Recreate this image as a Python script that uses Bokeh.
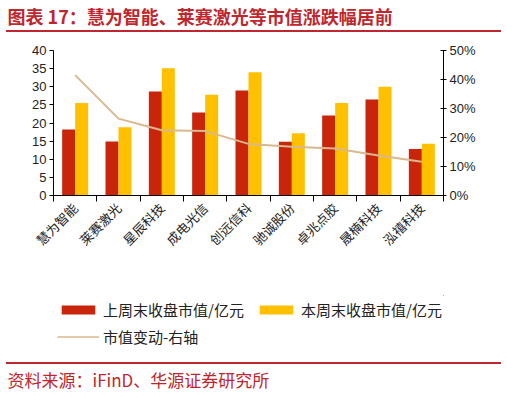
import math
from bokeh.plotting import figure
from bokeh.models import (ColumnDataSource, Range1d, LinearAxis, FixedTicker,
                          PrintfTickFormatter, Legend, LegendItem, Div)
from bokeh.transform import dodge
from bokeh.layouts import column
from bokeh.embed import file_html
from bokeh.resources import INLINE

# ---------------- data ----------------
title_text = "图表 17：慧为智能、莱赛激光等市值涨跌幅居前"
source_text = "资料来源：iFinD、华源证券研究所"
categories = ["慧为智能", "莱赛激光", "星辰科技", "成电光信", "创远信科",
              "驰诚股份", "卓兆点胶", "晟楠科技", "泓禧科技"]
last_week = [18.2, 14.9, 28.7, 22.9, 29.0, 14.8, 22.1, 26.5, 12.8]
this_week = [25.5, 18.8, 35.1, 27.8, 34.0, 17.2, 25.5, 30.0, 14.3]
change_pct = [41.5, 26.5, 22.5, 22.2, 17.8, 16.8, 16.2, 13.8, 11.6]
left_ticks = [0, 5, 10, 15, 20, 25, 30, 35, 40]
right_ticks = [0, 10, 20, 30, 40, 50]
legend_labels = ["上周末收盘市值/亿元", "本周末收盘市值/亿元", "市值变动-右轴"]

RED = "#C8250A"
YELLOW = "#FFC000"
TAN = "#D9B88F"
TITLE_RED = "#C0262D"
CJK = "Noto Sans CJK SC"
LAT = "Liberation Sans"
W = 503
FRAME_L, FRAME_R = 53, 443


def bare(height, top_pad=0):
    f = figure(width=W, height=height, output_backend="svg", toolbar_location=None,
               x_axis_location=None, y_axis_location=None, min_border=0,
               min_border_top=top_pad, margin=0)
    f.outline_line_color = None
    f.grid.visible = False
    return f


def text_strip(text, height, size, bold, top_pad):
    f = bare(height, top_pad)
    f.title.text = text
    f.title.align = "left"
    f.title.offset = -(FRAME_L - 7)
    f.title.standoff = 0
    f.title.text_font = CJK
    f.title.text_font_size = size
    f.title.text_font_style = "bold" if bold else "normal"
    f.title.text_color = TITLE_RED
    return f


def rule(thick):
    return Div(text="", width=495, height=thick, margin=(0, 0, 0, 6),
               styles={"background-color": TITLE_RED})


top = text_strip(title_text, 30, "18px", True, 2)
bot = text_strip(source_text, 30, "17px", False, 2)

# ---------------- main chart ----------------
idx = list(range(len(categories)))
src = ColumnDataSource(dict(idx=idx, last=last_week, this=this_week, chg=change_pct))

p = figure(width=W, height=263, x_range=Range1d(-0.5, len(categories) - 0.5),
           y_range=Range1d(0, 40), output_backend="svg", toolbar_location=None,
           min_border_left=FRAME_L, min_border_right=W - FRAME_R, min_border_top=18,
           min_border_bottom=100, margin=0)
p.outline_line_color = None
p.grid.visible = False
p.extra_y_ranges = {"pct": Range1d(0, 50)}

p.vbar(x=dodge("idx", -0.15, range=p.x_range), top="last", width=0.3, source=src,
       fill_color=RED, line_color=None)
p.vbar(x=dodge("idx", 0.15, range=p.x_range), top="this", width=0.3, source=src,
       fill_color=YELLOW, line_color=None)
p.line(x="idx", y="chg", source=src, y_range_name="pct", line_color=TAN, line_width=2)

# x axis: labels at category centres, ticks at category boundaries
xa = p.xaxis[0]
xa.ticker = FixedTicker(ticks=idx, minor_ticks=[i - 0.5 for i in range(len(categories) + 1)])
xa.major_label_overrides = {i: c for i, c in zip(idx, categories)}
xa.major_label_orientation = math.pi / 4
xa.major_tick_line_color = None
xa.major_tick_out = 6
xa.minor_tick_line_color = "black"
xa.minor_tick_out = 6
xa.minor_tick_in = 0
xa.axis_line_color = "black"
xa.major_label_text_font = CJK
xa.major_label_text_font_size = "13px"
xa.major_label_text_color = "#222222"
xa.major_label_standoff = 4

# left axis
ya = p.yaxis[0]
ya.ticker = FixedTicker(ticks=left_ticks)
ya.minor_tick_line_color = None
ya.major_tick_out = 4
ya.major_tick_in = 0
ya.axis_line_color = "black"
ya.major_tick_line_color = "black"
ya.major_label_text_font = LAT
ya.major_label_text_font_size = "13px"
ya.major_label_text_color = "#222222"
ya.major_label_standoff = 3

# right axis
ra = LinearAxis(y_range_name="pct", ticker=FixedTicker(ticks=right_ticks),
                formatter=PrintfTickFormatter(format="%d%%"))
ra.minor_tick_line_color = None
ra.major_tick_out = 3
ra.major_tick_in = 3
ra.axis_line_color = "black"
ra.major_tick_line_color = "black"
ra.major_label_text_font = LAT
ra.major_label_text_font_size = "13px"
ra.major_label_text_color = "#222222"
ra.major_label_standoff = 3
p.add_layout(ra, "right")

# ---------------- legend strip ----------------
# the legend's swatch renderers reuse the same series, kept out of view
leg = bare(67)
leg.x_range = Range1d(-100, -99)
leg.y_range = Range1d(-100, -99)
g1 = leg.vbar(x="idx", top="last", width=0.3, source=src, fill_color=RED, line_color=None)
g2 = leg.vbar(x="idx", top="this", width=0.3, source=src, fill_color=YELLOW, line_color=None)
g3 = leg.line(x="idx", y="chg", source=src, line_color=TAN, line_width=1.5)
legend = Legend(items=[LegendItem(label=legend_labels[0], renderers=[g1]),
                       LegendItem(label=legend_labels[1], renderers=[g2]),
                       LegendItem(label=legend_labels[2], renderers=[g3])],
                orientation="horizontal", ncols=2, location="top_left",
                glyph_width=42, glyph_height=11, label_standoff=4, spacing=6,
                label_width=146, padding=0, margin=4, border_line_color=None,
                background_fill_alpha=0, label_text_font=CJK,
                label_text_font_size="15px", label_text_color="#222222")
leg.add_layout(legend)

layout = column(top, rule(2), p, leg, rule(2), bot, spacing=0)
open("out.html", "w").write(file_html(layout, INLINE))
